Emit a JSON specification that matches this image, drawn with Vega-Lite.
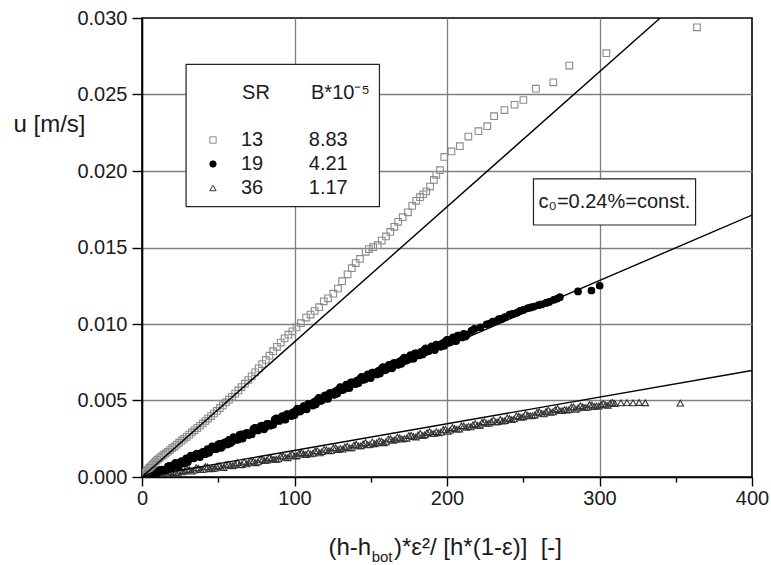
{
  "$schema": "https://vega.github.io/schema/vega-lite/v6.json",
  "width": 610,
  "height": 459,
  "autosize": {"type": "none"},
  "padding": {"left": 142, "top": 18, "right": 19, "bottom": 88},
  "background": "white",
  "config": {
    "font": "Liberation Sans",
    "view": {"stroke": "#000000", "strokeWidth": 1.6}
  },
  "datasets": {
    "obs": [
      {"s":"36","x":1,"u":0.00002},{"s":"36","x":4,"u":0.00006},{"s":"36","x":7,"u":0.00015},{"s":"36","x":10,"u":0.00016},{"s":"36","x":13,"u":0.00026},{"s":"36","x":16,"u":0.00025},{"s":"36","x":19,"u":0.00036},{"s":"36","x":22,"u":0.0003},{"s":"36","x":25,"u":0.00043},{"s":"36","x":28,"u":0.00041},{"s":"36","x":31,"u":0.00049},{"s":"36","x":34,"u":0.00045},{"s":"36","x":37,"u":0.00058},{"s":"36","x":40,"u":0.0005},{"s":"36","x":43,"u":0.00066},{"s":"36","x":46,"u":0.00057},{"s":"36","x":49,"u":0.00069},{"s":"36","x":52,"u":0.00063},{"s":"36","x":55,"u":0.00081},{"s":"36","x":58,"u":0.00075},{"s":"36","x":61,"u":0.00083},{"s":"36","x":64,"u":0.0008},{"s":"36","x":67,"u":0.00099},{"s":"36","x":70,"u":0.00094},{"s":"36","x":73,"u":0.00104},{"s":"36","x":76,"u":0.00099},{"s":"36","x":79,"u":0.00116},{"s":"36","x":82,"u":0.00111},{"s":"36","x":85,"u":0.0012},{"s":"36","x":88,"u":0.00116},{"s":"36","x":91,"u":0.00136},{"s":"36","x":94,"u":0.00129},{"s":"36","x":97,"u":0.00141},{"s":"36","x":100,"u":0.00136},{"s":"36","x":103,"u":0.00155},{"s":"36","x":106,"u":0.0015},{"s":"36","x":109,"u":0.00159},{"s":"36","x":112,"u":0.00154},{"s":"36","x":115,"u":0.00172},{"s":"36","x":118,"u":0.00166},{"s":"36","x":121,"u":0.00177},{"s":"36","x":124,"u":0.00172},{"s":"36","x":127,"u":0.00191},{"s":"36","x":130,"u":0.00186},{"s":"36","x":133,"u":0.00196},{"s":"36","x":136,"u":0.00191},{"s":"36","x":139,"u":0.00209},{"s":"36","x":142,"u":0.00203},{"s":"36","x":145,"u":0.00216},{"s":"36","x":148,"u":0.00211},{"s":"36","x":151,"u":0.00229},{"s":"36","x":154,"u":0.00224},{"s":"36","x":157,"u":0.00234},{"s":"36","x":160,"u":0.0023},{"s":"36","x":163,"u":0.0025},{"s":"36","x":166,"u":0.00245},{"s":"36","x":169,"u":0.00256},{"s":"36","x":172,"u":0.00251},{"s":"36","x":175,"u":0.0027},{"s":"36","x":178,"u":0.00265},{"s":"36","x":181,"u":0.00275},{"s":"36","x":184,"u":0.00271},{"s":"36","x":187,"u":0.0029},{"s":"36","x":190,"u":0.00285},{"s":"36","x":193,"u":0.00296},{"s":"36","x":196,"u":0.00293},{"s":"36","x":199,"u":0.00311},{"s":"36","x":202,"u":0.00306},{"s":"36","x":205,"u":0.00317},{"s":"36","x":208,"u":0.00313},{"s":"36","x":211,"u":0.00334},{"s":"36","x":214,"u":0.00331},{"s":"36","x":217,"u":0.00341},{"s":"36","x":220,"u":0.00338},{"s":"36","x":223,"u":0.00358},{"s":"36","x":226,"u":0.00351},{"s":"36","x":229,"u":0.00362},{"s":"36","x":232,"u":0.00359},{"s":"36","x":235,"u":0.00377},{"s":"36","x":238,"u":0.00369},{"s":"36","x":241,"u":0.00382},{"s":"36","x":244,"u":0.0038},{"s":"36","x":247,"u":0.00397},{"s":"36","x":250,"u":0.00394},{"s":"36","x":253,"u":0.00403},{"s":"36","x":256,"u":0.00401},{"s":"36","x":259,"u":0.00422},{"s":"36","x":262,"u":0.00416},{"s":"36","x":265,"u":0.00428},{"s":"36","x":268,"u":0.00423},{"s":"36","x":271,"u":0.0044},{"s":"36","x":274,"u":0.00434},{"s":"36","x":277,"u":0.00441},{"s":"36","x":280,"u":0.00441},{"s":"36","x":283,"u":0.00458},{"s":"36","x":286,"u":0.00452},{"s":"36","x":289,"u":0.00459},{"s":"36","x":292,"u":0.00455},{"s":"36","x":295,"u":0.0047},{"s":"36","x":298,"u":0.00464},{"s":"36","x":301,"u":0.00473},{"s":"36","x":304,"u":0.00471},{"s":"36","x":307,"u":0.00483},{"s":"36","x":310,"u":0.0048},{"s":"36","x":314,"u":0.00484},{"s":"36","x":318,"u":0.00486},{"s":"36","x":322,"u":0.00484},{"s":"36","x":326,"u":0.00487},{"s":"36","x":330,"u":0.00485},{"s":"36","x":353,"u":0.00483},
      {"s":"36","x":2.5,"u":0.00001},{"s":"36","x":5.5,"u":0.00015},{"s":"36","x":8.5,"u":0.00012},{"s":"36","x":11.5,"u":0.00026},{"s":"36","x":14.5,"u":0.00019},{"s":"36","x":17.5,"u":0.00036},{"s":"36","x":20.5,"u":0.00028},{"s":"36","x":23.5,"u":0.0003},{"s":"36","x":26.5,"u":0.00033},{"s":"36","x":29.5,"u":0.00051},{"s":"36","x":32.5,"u":0.00038},{"s":"36","x":35.5,"u":0.0006},{"s":"36","x":38.5,"u":0.00048},{"s":"36","x":41.5,"u":0.00068},{"s":"36","x":44.5,"u":0.00054},{"s":"36","x":47.5,"u":0.00056},{"s":"36","x":50.5,"u":0.00075},{"s":"36","x":53.5,"u":0.00062},{"s":"36","x":56.5,"u":0.00084},{"s":"36","x":59.5,"u":0.00073},{"s":"36","x":62.5,"u":0.00094},{"s":"36","x":65.5,"u":0.00082},{"s":"36","x":68.5,"u":0.00086},{"s":"36","x":71.5,"u":0.00105},{"s":"36","x":74.5,"u":0.00093},{"s":"36","x":77.5,"u":0.00117},{"s":"36","x":80.5,"u":0.00107},{"s":"36","x":83.5,"u":0.00127},{"s":"36","x":86.5,"u":0.00115},{"s":"36","x":89.5,"u":0.00118},{"s":"36","x":92.5,"u":0.00138},{"s":"36","x":95.5,"u":0.00126},{"s":"36","x":98.5,"u":0.0015},{"s":"36","x":101.5,"u":0.00139},{"s":"36","x":104.5,"u":0.0016},{"s":"36","x":107.5,"u":0.00147},{"s":"36","x":110.5,"u":0.00151},{"s":"36","x":113.5,"u":0.0017},{"s":"36","x":116.5,"u":0.00158},{"s":"36","x":119.5,"u":0.00181},{"s":"36","x":122.5,"u":0.00171},{"s":"36","x":125.5,"u":0.00191},{"s":"36","x":128.5,"u":0.00179},{"s":"36","x":131.5,"u":0.00182},{"s":"36","x":134.5,"u":0.00202},{"s":"36","x":137.5,"u":0.0019},{"s":"36","x":140.5,"u":0.00214},{"s":"36","x":143.5,"u":0.00204},{"s":"36","x":146.5,"u":0.00225},{"s":"36","x":149.5,"u":0.00213},{"s":"36","x":152.5,"u":0.00217},{"s":"36","x":155.5,"u":0.00236},{"s":"36","x":158.5,"u":0.00224},{"s":"36","x":161.5,"u":0.00249},{"s":"36","x":164.5,"u":0.00239},{"s":"36","x":167.5,"u":0.0026},{"s":"36","x":170.5,"u":0.00248},{"s":"36","x":173.5,"u":0.00253},{"s":"36","x":176.5,"u":0.00273},{"s":"36","x":179.5,"u":0.00261},{"s":"36","x":182.5,"u":0.00285},{"s":"36","x":185.5,"u":0.00276},{"s":"36","x":188.5,"u":0.00297},{"s":"36","x":191.5,"u":0.00285},{"s":"36","x":194.5,"u":0.00289},{"s":"36","x":197.5,"u":0.0031},{"s":"36","x":200.5,"u":0.00298},{"s":"36","x":203.5,"u":0.00323},{"s":"36","x":206.5,"u":0.00313},{"s":"36","x":209.5,"u":0.00335},{"s":"36","x":212.5,"u":0.00324},{"s":"36","x":215.5,"u":0.00328},{"s":"36","x":218.5,"u":0.00349},{"s":"36","x":221.5,"u":0.00338},{"s":"36","x":224.5,"u":0.00362},{"s":"36","x":227.5,"u":0.00352},{"s":"36","x":230.5,"u":0.00373},{"s":"36","x":233.5,"u":0.00362},{"s":"36","x":236.5,"u":0.00366},{"s":"36","x":239.5,"u":0.00386},{"s":"36","x":242.5,"u":0.00375},{"s":"36","x":245.5,"u":0.00399},{"s":"36","x":248.5,"u":0.0039},{"s":"36","x":251.5,"u":0.00412},{"s":"36","x":254.5,"u":0.004},{"s":"36","x":257.5,"u":0.00405},{"s":"36","x":260.5,"u":0.00426},{"s":"36","x":263.5,"u":0.00413},{"s":"36","x":266.5,"u":0.00437},{"s":"36","x":269.5,"u":0.00426},{"s":"36","x":272.5,"u":0.00447},{"s":"36","x":275.5,"u":0.00434},{"s":"36","x":278.5,"u":0.00438},{"s":"36","x":281.5,"u":0.00457},{"s":"36","x":284.5,"u":0.00443},{"s":"36","x":287.5,"u":0.00466},{"s":"36","x":290.5,"u":0.00455},{"s":"36","x":293.5,"u":0.00474},{"s":"36","x":296.5,"u":0.00461},{"s":"36","x":299.5,"u":0.00463},{"s":"36","x":302.5,"u":0.00481},{"s":"36","x":305.5,"u":0.00468},{"s":"36","x":308.5,"u":0.00487},
      {"s":"19","x":1,"u":0.00008},{"s":"19","x":3,"u":0.00007},{"s":"19","x":5,"u":0.0002},{"s":"19","x":7,"u":0.00019},{"s":"19","x":9,"u":0.00038},{"s":"19","x":11,"u":0.00037},{"s":"19","x":13,"u":0.00049},{"s":"19","x":15,"u":0.00046},{"s":"19","x":17,"u":0.00069},{"s":"19","x":19,"u":0.00065},{"s":"19","x":21,"u":0.00081},{"s":"19","x":23,"u":0.00075},{"s":"19","x":25,"u":0.00096},{"s":"19","x":27,"u":0.00088},{"s":"19","x":29,"u":0.00122},{"s":"19","x":31,"u":0.00116},{"s":"19","x":33,"u":0.00132},{"s":"19","x":35,"u":0.00145},{"s":"19","x":37,"u":0.00136},{"s":"19","x":39,"u":0.00156},{"s":"19","x":41,"u":0.00149},{"s":"19","x":43,"u":0.00183},{"s":"19","x":45,"u":0.00176},{"s":"19","x":47,"u":0.00193},{"s":"19","x":49,"u":0.00184},{"s":"19","x":51,"u":0.00217},{"s":"19","x":53,"u":0.00205},{"s":"19","x":55,"u":0.00228},{"s":"19","x":57,"u":0.00243},{"s":"19","x":59,"u":0.00231},{"s":"19","x":61,"u":0.00254},{"s":"19","x":63,"u":0.00244},{"s":"19","x":65,"u":0.00278},{"s":"19","x":67,"u":0.00272},{"s":"19","x":69,"u":0.00288},{"s":"19","x":71,"u":0.00279},{"s":"19","x":73,"u":0.00313},{"s":"19","x":75,"u":0.00306},{"s":"19","x":77,"u":0.00323},{"s":"19","x":79,"u":0.00336},{"s":"19","x":81,"u":0.00327},{"s":"19","x":83,"u":0.00348},{"s":"19","x":85,"u":0.00341},{"s":"19","x":87,"u":0.00375},{"s":"19","x":89,"u":0.00369},{"s":"19","x":91,"u":0.00386},{"s":"19","x":93,"u":0.00377},{"s":"19","x":95,"u":0.00411},{"s":"19","x":97,"u":0.00405},{"s":"19","x":99,"u":0.00422},{"s":"19","x":101,"u":0.00435},{"s":"19","x":103,"u":0.00427},{"s":"19","x":105,"u":0.00449},{"s":"19","x":107,"u":0.00443},{"s":"19","x":109,"u":0.00478},{"s":"19","x":111,"u":0.00473},{"s":"19","x":113,"u":0.00491},{"s":"19","x":115,"u":0.00505},{"s":"19","x":117,"u":0.00497},{"s":"19","x":119,"u":0.00519},{"s":"19","x":121,"u":0.00513},{"s":"19","x":123,"u":0.00548},{"s":"19","x":125,"u":0.00543},{"s":"19","x":127,"u":0.00561},{"s":"19","x":129,"u":0.00575},{"s":"19","x":131,"u":0.00567},{"s":"19","x":133,"u":0.00589},{"s":"19","x":135,"u":0.00583},{"s":"19","x":137,"u":0.00618},{"s":"19","x":139,"u":0.00613},{"s":"19","x":141,"u":0.0063},{"s":"19","x":143,"u":0.00643},{"s":"19","x":145,"u":0.00635},{"s":"19","x":147,"u":0.00656},{"s":"19","x":149,"u":0.00649},{"s":"19","x":151,"u":0.00682},{"s":"19","x":153,"u":0.00677},{"s":"19","x":155,"u":0.00693},{"s":"19","x":157,"u":0.00706},{"s":"19","x":159,"u":0.00697},{"s":"19","x":161,"u":0.00719},{"s":"19","x":163,"u":0.00711},{"s":"19","x":165,"u":0.00745},{"s":"19","x":167,"u":0.0074},{"s":"19","x":169,"u":0.00756},{"s":"19","x":171,"u":0.00769},{"s":"19","x":173,"u":0.0076},{"s":"19","x":175,"u":0.00782},{"s":"19","x":177,"u":0.00774},{"s":"19","x":179,"u":0.00808},{"s":"19","x":181,"u":0.00802},{"s":"19","x":183,"u":0.00818},{"s":"19","x":185,"u":0.0083},{"s":"19","x":187,"u":0.0082},{"s":"19","x":189,"u":0.00842},{"s":"19","x":191,"u":0.00836},{"s":"19","x":193,"u":0.00865},{"s":"19","x":195,"u":0.00858},{"s":"19","x":197,"u":0.00874},{"s":"19","x":199,"u":0.00886},{"s":"19","x":201,"u":0.00877},{"s":"19","x":203,"u":0.00899},{"s":"19","x":205,"u":0.0089},{"s":"19","x":207,"u":0.00924},{"s":"19","x":209,"u":0.00918},{"s":"19","x":211,"u":0.00935},{"s":"19","x":213,"u":0.0093},{"s":"19","x":216,"u":0.00955},{"s":"19","x":218,"u":0.00968},{"s":"19","x":222,"u":0.00978},{"s":"19","x":226,"u":0.00998},{"s":"19","x":228,"u":0.01003},{"s":"19","x":230,"u":0.01015},{"s":"19","x":232,"u":0.01018},{"s":"19","x":234,"u":0.01032},{"s":"19","x":236,"u":0.01035},{"s":"19","x":238,"u":0.01045},{"s":"19","x":241,"u":0.01062},{"s":"19","x":243,"u":0.01066},{"s":"19","x":246,"u":0.01075},{"s":"19","x":248,"u":0.01086},{"s":"19","x":250,"u":0.01092},{"s":"19","x":253,"u":0.01103},{"s":"19","x":255,"u":0.01108},{"s":"19","x":257,"u":0.01114},{"s":"19","x":260,"u":0.01123},{"s":"19","x":262,"u":0.01128},{"s":"19","x":265,"u":0.01138},{"s":"19","x":267,"u":0.01144},{"s":"19","x":270,"u":0.01158},{"s":"19","x":272,"u":0.01165},{"s":"19","x":274,"u":0.01175},{"s":"19","x":285.9,"u":0.01213},{"s":"19","x":294.7,"u":0.01219},{"s":"19","x":300.1,"u":0.0125},
      {"s":"19","x":2,"u":0.00002},{"s":"19","x":4,"u":0.00022},{"s":"19","x":6,"u":0.00016},{"s":"19","x":8,"u":0.00035},{"s":"19","x":10,"u":0.00026},{"s":"19","x":12,"u":0.00046},{"s":"19","x":14,"u":0.00042},{"s":"19","x":16,"u":0.00048},{"s":"19","x":18,"u":0.00072},{"s":"19","x":20,"u":0.00065},{"s":"19","x":22,"u":0.00093},{"s":"19","x":24,"u":0.00069},{"s":"19","x":26,"u":0.00104},{"s":"19","x":28,"u":0.00092},{"s":"19","x":30,"u":0.00098},{"s":"19","x":32,"u":0.00139},{"s":"19","x":34,"u":0.00122},{"s":"19","x":36,"u":0.00153},{"s":"19","x":38,"u":0.0013},{"s":"19","x":40,"u":0.00165},{"s":"19","x":42,"u":0.00152},{"s":"19","x":44,"u":0.00159},{"s":"19","x":46,"u":0.002},{"s":"19","x":48,"u":0.00182},{"s":"19","x":50,"u":0.00214},{"s":"19","x":52,"u":0.00191},{"s":"19","x":54,"u":0.00225},{"s":"19","x":56,"u":0.00213},{"s":"19","x":58,"u":0.0022},{"s":"19","x":60,"u":0.0026},{"s":"19","x":62,"u":0.00243},{"s":"19","x":64,"u":0.00275},{"s":"19","x":66,"u":0.00251},{"s":"19","x":68,"u":0.00286},{"s":"19","x":70,"u":0.00274},{"s":"19","x":72,"u":0.0028},{"s":"19","x":74,"u":0.00321},{"s":"19","x":76,"u":0.00304},{"s":"19","x":78,"u":0.00335},{"s":"19","x":80,"u":0.00312},{"s":"19","x":82,"u":0.00347},{"s":"19","x":84,"u":0.00335},{"s":"19","x":86,"u":0.00342},{"s":"19","x":88,"u":0.00383},{"s":"19","x":90,"u":0.00366},{"s":"19","x":92,"u":0.00398},{"s":"19","x":94,"u":0.00375},{"s":"19","x":96,"u":0.0041},{"s":"19","x":98,"u":0.00398},{"s":"19","x":100,"u":0.00405},{"s":"19","x":102,"u":0.00447},{"s":"19","x":104,"u":0.00431},{"s":"19","x":106,"u":0.00464},{"s":"19","x":108,"u":0.00442},{"s":"19","x":110,"u":0.00478},{"s":"19","x":112,"u":0.00467},{"s":"19","x":114,"u":0.00475},{"s":"19","x":116,"u":0.00517},{"s":"19","x":118,"u":0.00501},{"s":"19","x":120,"u":0.00534},{"s":"19","x":122,"u":0.00512},{"s":"19","x":124,"u":0.00548},{"s":"19","x":126,"u":0.00537},{"s":"19","x":128,"u":0.00545},{"s":"19","x":130,"u":0.00587},{"s":"19","x":132,"u":0.00571},{"s":"19","x":134,"u":0.00604},{"s":"19","x":136,"u":0.00582},{"s":"19","x":138,"u":0.00618},{"s":"19","x":140,"u":0.00607},{"s":"19","x":142,"u":0.00614},{"s":"19","x":144,"u":0.00655},{"s":"19","x":146,"u":0.00638},{"s":"19","x":148,"u":0.0067},{"s":"19","x":150,"u":0.00647},{"s":"19","x":152,"u":0.00682},{"s":"19","x":154,"u":0.0067},{"s":"19","x":156,"u":0.00677},{"s":"19","x":158,"u":0.00718},{"s":"19","x":160,"u":0.00701},{"s":"19","x":162,"u":0.00733},{"s":"19","x":164,"u":0.0071},{"s":"19","x":166,"u":0.00745},{"s":"19","x":168,"u":0.00733},{"s":"19","x":170,"u":0.0074},{"s":"19","x":172,"u":0.00781},{"s":"19","x":174,"u":0.00764},{"s":"19","x":176,"u":0.00796},{"s":"19","x":178,"u":0.00773},{"s":"19","x":180,"u":0.00808},{"s":"19","x":182,"u":0.00795},{"s":"19","x":184,"u":0.00801},{"s":"19","x":186,"u":0.00841},{"s":"19","x":188,"u":0.00823},{"s":"19","x":190,"u":0.00854},{"s":"19","x":192,"u":0.0083},{"s":"19","x":194,"u":0.00864},{"s":"19","x":196,"u":0.00851},{"s":"19","x":198,"u":0.00857},{"s":"19","x":200,"u":0.00897},{"s":"19","x":202,"u":0.0088},{"s":"19","x":204,"u":0.00912},{"s":"19","x":206,"u":0.00889},{"s":"19","x":208,"u":0.00924},{"s":"19","x":210,"u":0.00912},{"s":"19","x":212,"u":0.00919},
      {"s":"13","x":0.8,"u":0.0001},{"s":"13","x":1.5,"u":0.0002},{"s":"13","x":2.3,"u":0.0003},{"s":"13","x":3.1,"u":0.0004},{"s":"13","x":4.0,"u":0.0005},{"s":"13","x":4.9,"u":0.0006},{"s":"13","x":5.8,"u":0.0007},{"s":"13","x":6.8,"u":0.0008},{"s":"13","x":7.9,"u":0.0009},{"s":"13","x":9.0,"u":0.00102},{"s":"13","x":10.2,"u":0.00113},{"s":"13","x":11.5,"u":0.00124},{"s":"13","x":12.8,"u":0.00134},{"s":"13","x":14.1,"u":0.00144},{"s":"13","x":15.5,"u":0.00154},{"s":"13","x":16.9,"u":0.00165},{"s":"13","x":18.3,"u":0.00176},{"s":"13","x":19.8,"u":0.00188},{"s":"13","x":21.3,"u":0.00199},{"s":"13","x":22.8,"u":0.00211},{"s":"13","x":24.4,"u":0.00224},{"s":"13","x":26.0,"u":0.00237},{"s":"13","x":27.6,"u":0.0025},{"s":"13","x":29.3,"u":0.00263},{"s":"13","x":31.0,"u":0.00277},{"s":"13","x":32.7,"u":0.00291},{"s":"13","x":34.4,"u":0.00305},{"s":"13","x":36.2,"u":0.0032},{"s":"13","x":38.0,"u":0.00335},{"s":"13","x":39.8,"u":0.0035},{"s":"13","x":41.6,"u":0.00366},{"s":"13","x":43.4,"u":0.00382},{"s":"13","x":45.3,"u":0.00398},{"s":"13","x":47.2,"u":0.00415},{"s":"13","x":49.1,"u":0.00432},{"s":"13","x":51.0,"u":0.0045},{"s":"13","x":53.0,"u":0.00468},{"s":"13","x":55.0,"u":0.00487},{"s":"13","x":57.0,"u":0.00505},{"s":"13","x":59.0,"u":0.00524},{"s":"13","x":61.1,"u":0.00545},{"s":"13","x":63.2,"u":0.00566},{"s":"13","x":65.3,"u":0.00588},{"s":"13","x":67.5,"u":0.0061},{"s":"13","x":69.7,"u":0.00634},{"s":"13","x":71.9,"u":0.00658},{"s":"13","x":74.2,"u":0.00684},{"s":"13","x":76.5,"u":0.0071},{"s":"13","x":78.8,"u":0.00738},{"s":"13","x":81.2,"u":0.00765},{"s":"13","x":83.6,"u":0.00793},{"s":"13","x":86.0,"u":0.00822},{"s":"13","x":88.5,"u":0.00851},{"s":"13","x":91.0,"u":0.00879},{"s":"13","x":93.5,"u":0.00906},{"s":"13","x":96.0,"u":0.0093},{"s":"13","x":98.6,"u":0.00952},{"s":"13","x":101.3,"u":0.00978},{"s":"13","x":104.2,"u":0.01005},{"s":"13","x":107.6,"u":0.01042},{"s":"13","x":110.5,"u":0.01062},{"s":"13","x":113.2,"u":0.01085},{"s":"13","x":116.2,"u":0.0111},{"s":"13","x":119.2,"u":0.01148},{"s":"13","x":122.0,"u":0.01168},{"s":"13","x":125.5,"u":0.01198},{"s":"13","x":128.5,"u":0.01232},{"s":"13","x":131.2,"u":0.0128},{"s":"13","x":134.8,"u":0.01325},{"s":"13","x":137.6,"u":0.01365},{"s":"13","x":140.1,"u":0.01398},{"s":"13","x":142.9,"u":0.01425},{"s":"13","x":146.7,"u":0.01472},{"s":"13","x":148.8,"u":0.0149},{"s":"13","x":151.6,"u":0.01502},{"s":"13","x":154.6,"u":0.01515},{"s":"13","x":157.2,"u":0.01545},{"s":"13","x":160.0,"u":0.01572},{"s":"13","x":162.8,"u":0.01602},{"s":"13","x":165.5,"u":0.01635},{"s":"13","x":168.0,"u":0.01668},{"s":"13","x":171.0,"u":0.01698},{"s":"13","x":174.4,"u":0.0173},{"s":"13","x":177.2,"u":0.01772},{"s":"13","x":179.8,"u":0.01805},{"s":"13","x":182.3,"u":0.01829},{"s":"13","x":184.5,"u":0.01848},{"s":"13","x":186.4,"u":0.01866},{"s":"13","x":188.9,"u":0.01898},{"s":"13","x":191.4,"u":0.01942},{"s":"13","x":193.0,"u":0.01975},{"s":"13","x":195.4,"u":0.02005},{"s":"13","x":198.2,"u":0.02092},{"s":"13","x":202.9,"u":0.02128},{"s":"13","x":208.4,"u":0.02162},{"s":"13","x":214.0,"u":0.02225},{"s":"13","x":220.6,"u":0.0226},{"s":"13","x":226.4,"u":0.02293},{"s":"13","x":230.9,"u":0.02358},{"s":"13","x":237.7,"u":0.02398},{"s":"13","x":244.3,"u":0.02433},{"s":"13","x":250.1,"u":0.02464},{"s":"13","x":258.3,"u":0.02538},{"s":"13","x":269.7,"u":0.0258},{"s":"13","x":280.2,"u":0.02689},{"s":"13","x":304.5,"u":0.0277},{"s":"13","x":363.9,"u":0.02939}
    ],
    "fit": [
      {"s":"13","x":0,"u":0},{"s":"13","x":339.8,"u":0.03},
      {"s":"19","x":0,"u":0},{"s":"19","x":400,"u":0.01712},
      {"s":"36","x":0,"u":0},{"s":"36","x":400,"u":0.00696}
    ]
  },
  "layer": [
    {
      "data": {"name": "obs"},
      "mark": {"type": "point", "size": 44, "strokeWidth": 1.1, "opacity": 1, "clip": true},
      "encoding": {
        "x": {
          "field": "x", "type": "quantitative",
          "scale": {"domain": [0, 400], "nice": false, "zero": false},
          "axis": {
            "orient": "bottom", "title": null,
            "values": [0, 50, 100, 150, 200, 250, 300, 350, 400],
            "labelExpr": "datum.value % 100 == 0 ? datum.label : ''",
            "labelFont": "Liberation Sans", "labelFontSize": 20, "labelColor": "#1a1a1a",
            "labelPadding": 2, "labelFlush": false, "labelOverlap": false,
            "domainColor": "#000000", "domainWidth": 1.6,
            "tickColor": "#000000", "tickWidth": 1.4,
            "tickSize": {"condition": {"test": "datum.value % 100 != 0", "value": 5}, "value": 9},
            "grid": true, "gridColor": "#7f7f7f", "gridWidth": 1.3,
            "gridOpacity": {"condition": {"test": "datum.value % 100 != 0 || datum.value == 0 || datum.value == 400", "value": 0}, "value": 1}
          }
        },
        "y": {
          "field": "u", "type": "quantitative",
          "scale": {"domain": [0, 0.03], "nice": false, "zero": false},
          "axis": {
            "orient": "left",
            "title": "u [m/s]",
            "titleAngle": 0, "titleAlign": "left", "titleBaseline": "middle",
            "titleX": -129, "titleY": 106,
            "titleFont": "Liberation Sans", "titleFontSize": 24, "titleFontWeight": "normal", "titleColor": "#1a1a1a",
            "values": [0, 0.0025, 0.005, 0.0075, 0.01, 0.0125, 0.015, 0.0175, 0.02, 0.0225, 0.025, 0.0275, 0.03],
            "format": ".3f",
            "labelExpr": "abs(datum.value*200 - round(datum.value*200)) > 0.1 ? '' : datum.label",
            "labelFont": "Liberation Sans", "labelFontSize": 20, "labelColor": "#1a1a1a",
            "labelPadding": 5, "labelFlush": false, "labelOverlap": false,
            "domainColor": "#000000", "domainWidth": 1.6,
            "tickColor": "#000000", "tickWidth": 1.4,
            "tickSize": {"condition": {"test": "abs(datum.value*200 - round(datum.value*200)) > 0.1", "value": 5}, "value": 10},
            "grid": true, "gridColor": "#7f7f7f", "gridWidth": 1.3,
            "gridOpacity": {"condition": {"test": "abs(datum.value*200 - round(datum.value*200)) > 0.1 || datum.value < 0.0001 || datum.value > 0.0299", "value": 0}, "value": 1}
          }
        },
        "shape": {
          "field": "s", "type": "nominal",
          "scale": {"domain": ["13", "19", "36"], "range": ["square", "circle", "triangle-up"]},
          "legend": {"orient": "none", "legendX": 59, "legendY": 65, "direction": "vertical", "padding": 0, "zindex": 1,
            "title": "\u200b\u2002\u2002\u2002\u00a0\u00a0SR\u2002\u2002\u2002\u00a0\u00a0B*10\u207b\u2075",
            "titleFont": "Liberation Sans", "titleFontSize": 20, "titleFontWeight": "normal", "titleColor": "#1a1a1a", "titlePadding": 27,
            "labelFont": "Liberation Sans", "labelFontSize": 20, "labelColor": "#1a1a1a", "labelOffset": 18,
            "labelExpr": "datum.label + '\u2002\u2002\u2002\u2002\u00a0' + (datum.label == '13' ? '8.83' : datum.label == '19' ? '4.21' : '1.17')",
            "symbolSize": 40, "symbolStrokeWidth": 1, "symbolOffset": 2, "rowPadding": 4}
        },
        "fill": {
          "field": "s", "type": "nominal",
          "scale": {"domain": ["13", "19", "36"], "range": ["transparent", "#000000", "transparent"]},
          "legend": {"orient": "none", "legendX": 59, "legendY": 65, "direction": "vertical", "padding": 0, "zindex": 1,
            "title": "\u200b\u2002\u2002\u2002\u00a0\u00a0SR\u2002\u2002\u2002\u00a0\u00a0B*10\u207b\u2075",
            "titleFont": "Liberation Sans", "titleFontSize": 20, "titleFontWeight": "normal", "titleColor": "#1a1a1a", "titlePadding": 27,
            "labelFont": "Liberation Sans", "labelFontSize": 20, "labelColor": "#1a1a1a", "labelOffset": 18,
            "labelExpr": "datum.label + '\u2002\u2002\u2002\u2002\u00a0' + (datum.label == '13' ? '8.83' : datum.label == '19' ? '4.21' : '1.17')",
            "symbolSize": 40, "symbolStrokeWidth": 1, "symbolOffset": 2, "rowPadding": 4}
        },
        "stroke": {
          "field": "s", "type": "nominal",
          "scale": {"domain": ["13", "19", "36"], "range": ["#8a8a8a", "#000000", "#333333"]},
          "legend": {"orient": "none", "legendX": 59, "legendY": 65, "direction": "vertical", "padding": 0, "zindex": 1,
            "title": "\u200b\u2002\u2002\u2002\u00a0\u00a0SR\u2002\u2002\u2002\u00a0\u00a0B*10\u207b\u2075",
            "titleFont": "Liberation Sans", "titleFontSize": 20, "titleFontWeight": "normal", "titleColor": "#1a1a1a", "titlePadding": 27,
            "labelFont": "Liberation Sans", "labelFontSize": 20, "labelColor": "#1a1a1a", "labelOffset": 18,
            "labelExpr": "datum.label + '\u2002\u2002\u2002\u2002\u00a0' + (datum.label == '13' ? '8.83' : datum.label == '19' ? '4.21' : '1.17')",
            "symbolSize": 40, "symbolStrokeWidth": 1, "symbolOffset": 2, "rowPadding": 4}
        }
      }
    },
    {
      "data": {"name": "fit"},
      "mark": {"type": "line", "color": "#000000", "strokeWidth": 1.4, "clip": true},
      "encoding": {
        "x": {"field": "x", "type": "quantitative"},
        "y": {"field": "u", "type": "quantitative"},
        "detail": {"field": "s", "type": "nominal"}
      }
    },
    {
      "data": {"values": [{"box": "legend"}]},
      "mark": {"type": "rect", "fill": "#ffffff", "stroke": "#222222", "strokeWidth": 1.2},
      "encoding": {
        "x": {"datum": 28.9, "type": "quantitative"},
        "x2": {"datum": 155.7},
        "y": {"datum": 0.02697, "type": "quantitative"},
        "y2": {"datum": 0.01767}
      }
    },
    {
      "data": {"values": [{"box": "note"}]},
      "mark": {"type": "rect", "fill": "#ffffff", "stroke": "#222222", "strokeWidth": 1.2},
      "encoding": {
        "x": {"datum": 256.7, "type": "quantitative"},
        "x2": {"datum": 363.0},
        "y": {"datum": 0.01948, "type": "quantitative"},
        "y2": {"datum": 0.01647}
      }
    },
    {
      "data": {"values": [{"t": "c\u2080=0.24%=const."}]},
      "mark": {"type": "text", "font": "Liberation Sans", "fontSize": 20, "color": "#1a1a1a", "align": "center", "baseline": "middle"},
      "encoding": {
        "x": {"datum": 309.8, "type": "quantitative"},
        "y": {"datum": 0.01797, "type": "quantitative"},
        "text": {"field": "t"}
      }
    },
    {
      "data": {"values": [{"t": "(h-h"}]},
      "mark": {"type": "text", "font": "Liberation Sans", "fontSize": 24, "color": "#1a1a1a", "align": "right", "baseline": "alphabetic"},
      "encoding": {
        "x": {"datum": 150.3, "type": "quantitative"},
        "y": {"datum": -0.0051, "type": "quantitative"},
        "text": {"field": "t"}
      }
    },
    {
      "data": {"values": [{"t": "bot"}]},
      "mark": {"type": "text", "font": "Liberation Sans", "fontSize": 15, "color": "#1a1a1a", "align": "left", "baseline": "alphabetic"},
      "encoding": {
        "x": {"datum": 150.6, "type": "quantitative"},
        "y": {"datum": -0.00556, "type": "quantitative"},
        "text": {"field": "t"}
      }
    },
    {
      "data": {"values": [{"t": ")*\u03b5\u00b2/ [h*(1-\u03b5)]\u00a0\u00a0[-]"}]},
      "mark": {"type": "text", "font": "Liberation Sans", "fontSize": 24, "color": "#1a1a1a", "align": "left", "baseline": "alphabetic"},
      "encoding": {
        "x": {"datum": 165.2, "type": "quantitative"},
        "y": {"datum": -0.0051, "type": "quantitative"},
        "text": {"field": "t"}
      }
    }
  ]
}
